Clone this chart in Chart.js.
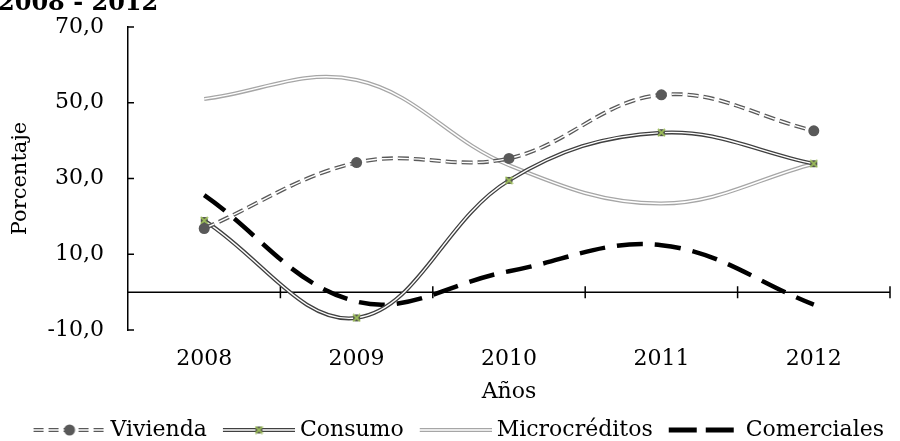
<!DOCTYPE html>
<html lang="es">
<head>
<meta charset="utf-8">
<title>Cartera 2008 - 2012</title>
<script src="https://cdn.jsdelivr.net/npm/chart.js@4.4.1/dist/chart.umd.min.js"></script>
<style>
  html, body { margin: 0; padding: 0; background: #fff; overflow: hidden; }
  .chart-clip { width: 900px; height: 441px; overflow: hidden; }
</style>
</head>
<body>
<div class="chart-clip"><canvas id="carteraChart" width="900" height="451"></canvas></div>
<script>
/* Data */
const years = ["2008", "2009", "2010", "2011", "2012"];
const vivienda = [16.8, 34.2, 35.3, 52.1, 42.6];
const consumo = [18.9, -6.8, 29.5, 42.1, 33.9];
const microcreditos = [51.0, 56.0, 33.5, 23.4, 33.9];
const comerciales = [25.6, -2.5, 5.5, 12.4, -3.3];
const yTicks = [-10, 10, 30, 50, 70];
const titleText = "2008 - 2012";

const FONT_FAMILY = '"DejaVu Serif", "Liberation Serif", serif';
const VIV_COLOR = "#595959";
const CONS_COLOR = "#404040";
const MICRO_COLOR = "#a6a6a6";
const COM_COLOR = "#000000";
const MARK_GREEN = "#9bbb59";
const TENSION = 0.38;

Chart.defaults.font.family = FONT_FAMILY;
Chart.defaults.color = "#000";

/* ---------- marker and legend symbols ---------- */
function makeConsumoMarker() {
  const c = document.createElement("canvas");
  c.width = 9;
  c.height = 9;
  const g = c.getContext("2d");
  g.fillStyle = "#4d4d4d";
  g.fillRect(1, 1, 7, 7);
  g.strokeStyle = MARK_GREEN;
  g.lineWidth = 1.8;
  g.beginPath();
  g.moveTo(1, 1); g.lineTo(8, 8);
  g.moveTo(8, 1); g.lineTo(1, 8);
  g.stroke();
  return c;
}
const consumoMarker = makeConsumoMarker();

/* symbol canvas is 78 wide, drawing lives in x 6..78 so it sits left of the text */
function makeLegendSymbol(kind) {
  const c = document.createElement("canvas");
  c.width = 78;
  c.height = 16;
  const g = c.getContext("2d");
  const x0 = 6, x1 = 78, cy = 8, mid = (x0 + x1) / 2;

  function line(color, width, dash) {
    g.strokeStyle = color;
    g.lineWidth = width;
    g.setLineDash(dash || []);
    g.beginPath();
    g.moveTo(x0, cy);
    g.lineTo(x1, cy);
    g.stroke();
  }

  if (kind === "viv") {
    line(VIV_COLOR, 4, [10, 5]);
    line("#fff", 1.4, [10, 5]);
    g.fillStyle = VIV_COLOR;
    g.beginPath();
    g.arc(mid, cy, 5.5, 0, Math.PI * 2);
    g.fill();
  } else if (kind === "cons") {
    line(CONS_COLOR, 4);
    line("#fff", 1.4);
    g.drawImage(consumoMarker, mid - 4.5, cy - 4.5);
  } else if (kind === "micro") {
    line(MICRO_COLOR, 4);
    line("#fff", 1.4);
  } else {
    line(COM_COLOR, 5, [28, 9]);
  }
  return c;
}

const legendSymbols = {
  "Vivienda": makeLegendSymbol("viv"),
  "Consumo": makeLegendSymbol("cons"),
  "Microcréditos": makeLegendSymbol("micro"),
  "Comerciales": makeLegendSymbol("com")
};

/* ---------- helper plugins: zero axis, inner ticks, cut-off title ---------- */
const axisDecor = {
  id: "axisDecor",
  beforeDatasetsDraw(chart) {
    const { ctx, chartArea, scales: { x, y } } = chart;
    const y0 = y.getPixelForValue(0);
    ctx.save();
    ctx.strokeStyle = "#000";
    ctx.lineWidth = 1.5;
    ctx.beginPath();
    ctx.moveTo(chartArea.left, y0);
    ctx.lineTo(chartArea.right, y0);
    for (let i = 0; i < years.length; i++) {
      const bx = i < years.length - 1
        ? (x.getPixelForValue(i) + x.getPixelForValue(i + 1)) / 2
        : chartArea.right;
      ctx.moveTo(bx, y0 - 6);
      ctx.lineTo(bx, y0 + 6);
    }
    y.ticks.forEach((t) => {
      const py = y.getPixelForValue(t.value);
      ctx.moveTo(chartArea.left, py);
      ctx.lineTo(chartArea.left + 6, py);
    });
    ctx.stroke();
    ctx.restore();
  }
};

const cutTitle = {
  id: "cutTitle",
  afterDraw(chart) {
    const ctx = chart.ctx;
    ctx.save();
    ctx.font = "bold 24px " + FONT_FAMILY;
    ctx.fillStyle = "#000";
    ctx.textBaseline = "alphabetic";
    ctx.fillText(titleText, -2, 10);
    ctx.restore();
  }
};

/* ---------- datasets (compound lines = wide colour + thin white) ---------- */
function base(data) {
  return { data, tension: TENSION, fill: false, pointRadius: 0, pointHoverRadius: 0 };
}

const datasets = [
  Object.assign(base(vivienda), {
    label: "_vivInner", borderColor: "#fff", borderWidth: 1.4, borderDash: [11, 5],
    pointRadius: 5.5, pointStyle: "circle", pointBackgroundColor: VIV_COLOR,
    pointBorderColor: VIV_COLOR, pointBorderWidth: 0, order: 1
  }),
  Object.assign(base(vivienda), {
    label: "Vivienda", borderColor: VIV_COLOR, borderWidth: 4, borderDash: [11, 5], order: 2
  }),
  Object.assign(base(consumo), {
    label: "_consInner", borderColor: "#fff", borderWidth: 1.4,
    pointRadius: 4.5, pointStyle: consumoMarker, order: 3
  }),
  Object.assign(base(consumo), {
    label: "Consumo", borderColor: CONS_COLOR, borderWidth: 4, order: 4
  }),
  Object.assign(base(microcreditos), {
    label: "_microInner", borderColor: "#fff", borderWidth: 1.4, order: 5
  }),
  Object.assign(base(microcreditos), {
    label: "Microcréditos", borderColor: MICRO_COLOR, borderWidth: 4, order: 6
  }),
  Object.assign(base(comerciales), {
    label: "Comerciales", borderColor: COM_COLOR, borderWidth: 4.5, borderDash: [26, 12], order: 7
  })
];

const legendOrder = ["Vivienda", "Consumo", "Microcréditos", "Comerciales"];

new Chart(document.getElementById("carteraChart"), {
  type: "line",
  data: { labels: years, datasets },
  options: {
    responsive: false,
    animation: false,
    events: [],
    layout: { padding: { top: 27, right: 0, left: 0, bottom: 0 } },
    plugins: {
      tooltip: { enabled: false },
      legend: {
        position: "bottom",
        align: "end",
        labels: {
          font: { size: 22 },
          color: "#000",
          usePointStyle: true,
          pointStyleWidth: 66,
          padding: 16,
          generateLabels(chart) {
            return legendOrder.map((name) => {
              const idx = chart.data.datasets.findIndex((d) => d.label === name);
              return {
                text: name,
                datasetIndex: idx,
                pointStyle: legendSymbols[name],
                fillStyle: "#fff",
                strokeStyle: "#fff",
                lineWidth: 0,
                hidden: false,
                fontColor: "#000"
              };
            });
          }
        }
      }
    },
    scales: {
      x: {
        offset: true,
        grid: { display: false, drawTicks: false },
        border: { display: false },
        afterFit(scale) {
          scale.height = 73;
        },
        ticks: { font: { size: 22 }, color: "#000", padding: 16, maxRotation: 0 },
        title: { display: true, text: "Años", font: { size: 22, lineHeight: 1 }, color: "#000", padding: { top: 0, bottom: 0 } }
      },
      y: {
        min: -10,
        max: 70,
        grid: { display: false, drawTicks: true, tickLength: 11 },
        border: { display: true, color: "#000", width: 1.5 },
        afterBuildTicks(scale) {
          scale.ticks = yTicks.map((v) => ({ value: v }));
        },
        afterFit(scale) {
          scale.width = 128;
        },
        ticks: {
          font: { size: 22 },
          color: "#000",
          padding: 13,
          callback: (v) => Number(v).toFixed(1).replace(".", ",")
        },
        title: { display: true, text: "Porcentaje", font: { size: 21 }, color: "#000", padding: { top: 8, bottom: 0 } }
      },
      /* empty right gutter so the plot ends at x = 890 */
      gutter: {
        position: "right",
        grid: { display: false, drawTicks: false },
        border: { display: false },
        ticks: { display: false },
        afterFit(scale) {
          scale.width = 10;
        }
      }
    }
  },
  plugins: [axisDecor, cutTitle]
});
</script>
</body>
</html>
